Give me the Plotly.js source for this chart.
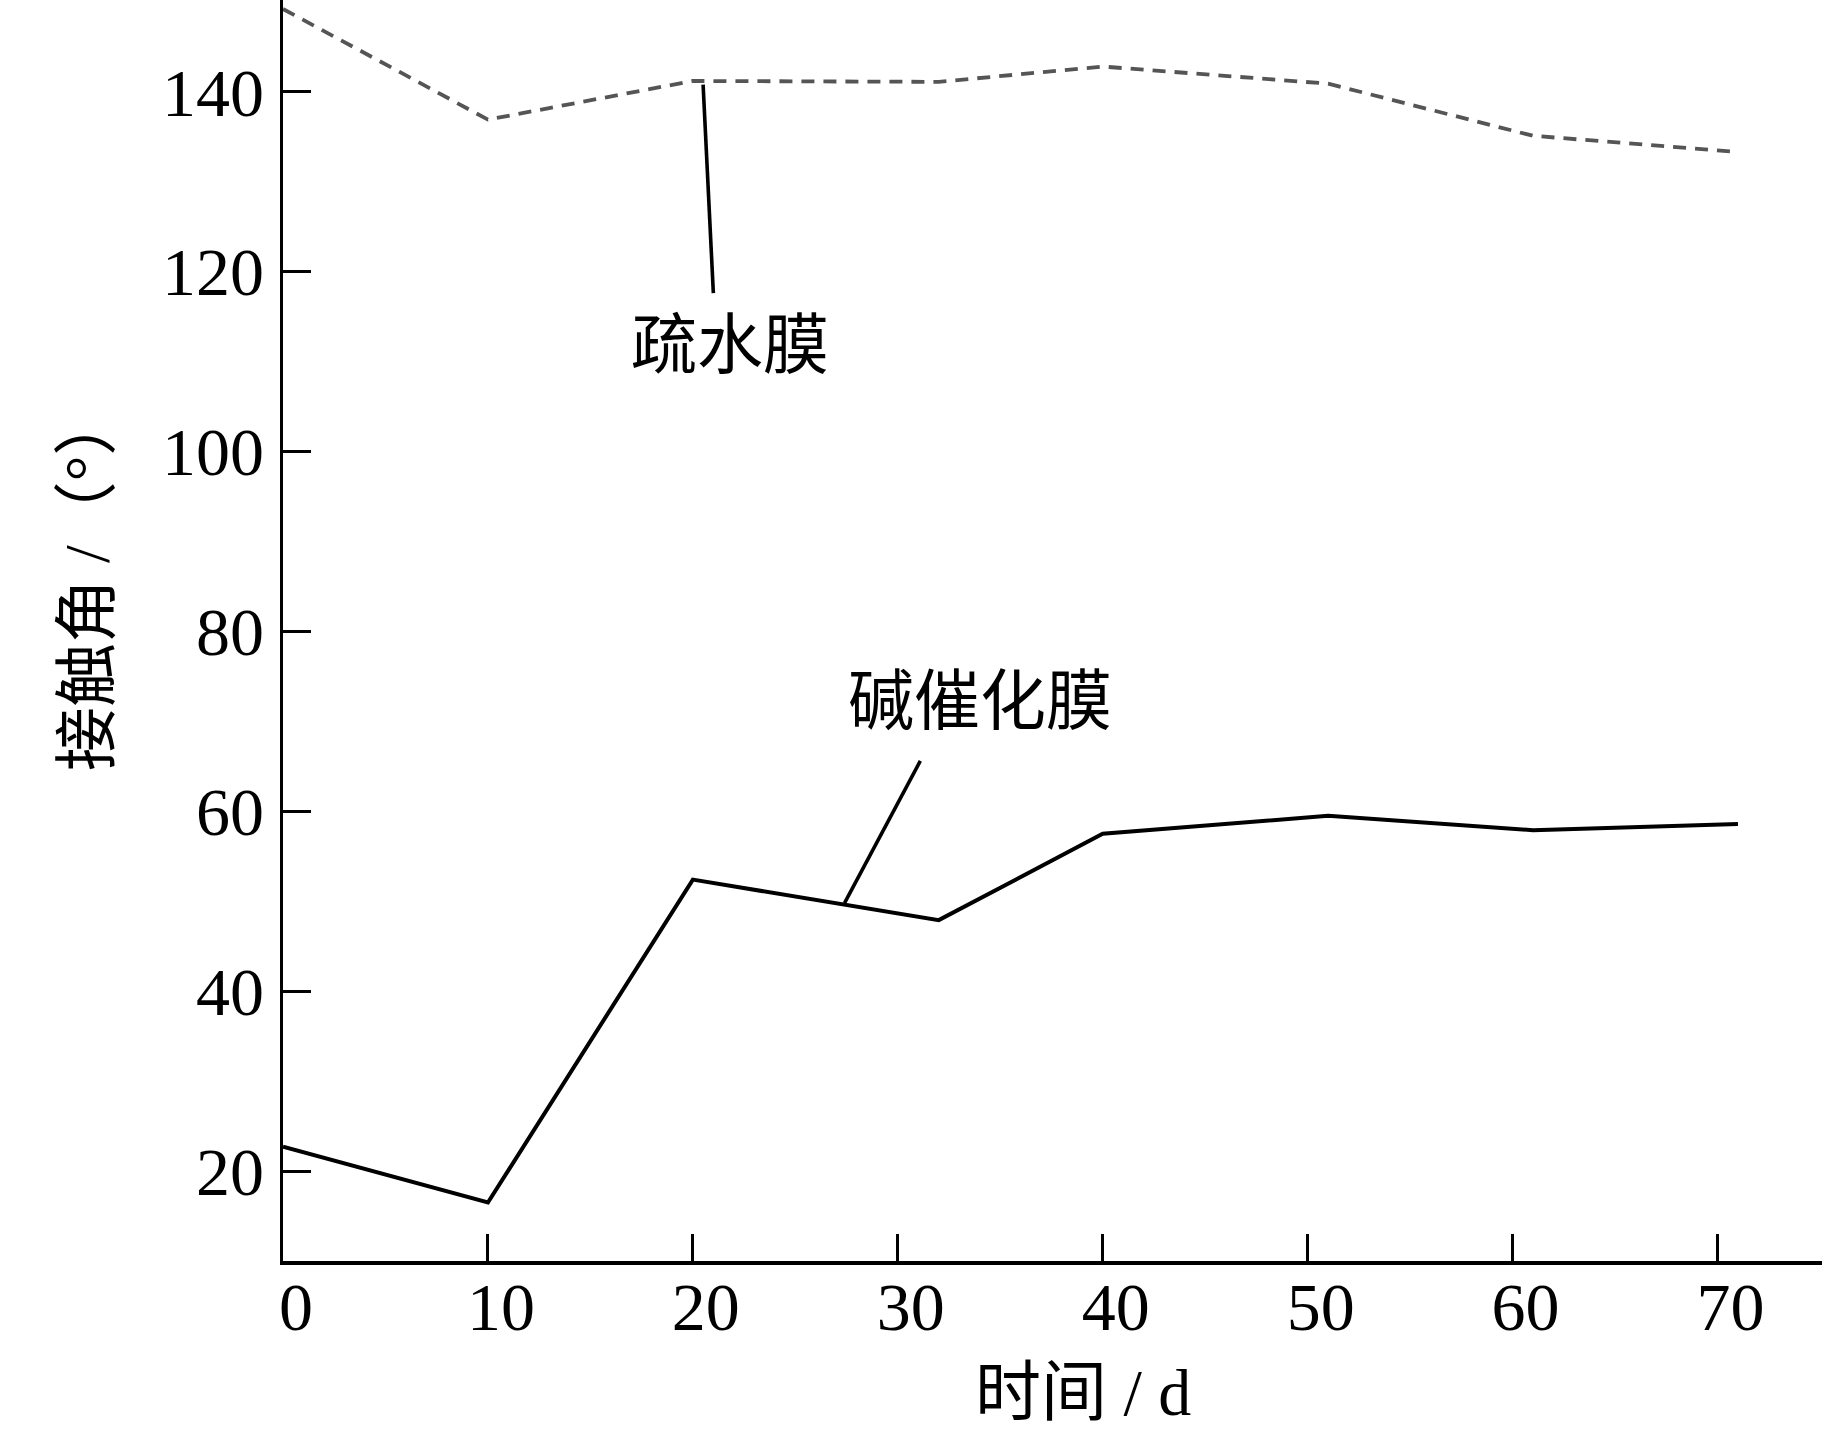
<!DOCTYPE html>
<html>
<head>
<meta charset="utf-8">
<script src="https://cdn.plot.ly/plotly-3.0.1.min.js"></script>
<style>html,body{margin:0;padding:0;background:#fff;}#chart{width:1822px;height:1435px;}</style>
</head>
<body>
<div id="chart"></div>
<script>
// Data
const days_hydrophobic = [0, 10, 20, 32, 40, 51, 61, 71];
const angle_hydrophobic = [149.2, 136.9, 141.2, 141.1, 142.8, 140.9, 135.1, 133.3];
const days_alkali = [0, 10, 20, 32, 40, 51, 61, 71];
const angle_alkali = [22.7, 16.5, 52.4, 47.9, 57.5, 59.5, 57.9, 58.6];
const xTicks = [0, 10, 20, 30, 40, 50, 60, 70];
const yTicks = [20, 40, 60, 80, 100, 120, 140];
const label_hydrophobic = '疏水膜';
const label_alkali = '碱催化膜';
const xTitle = '时间 / d';
const yTitle = '接触角 /（°）';

const FONT = '"Liberation Serif", "Times New Roman", "Noto Sans CJK SC", serif';

const traces = [
  {x: days_hydrophobic, y: angle_hydrophobic, mode: 'lines', type: 'scatter',
   line: {color: '#555555', width: 3.8, dash: '13px,9px'}, hoverinfo: 'none'},
  {x: days_alkali, y: angle_alkali, mode: 'lines', type: 'scatter',
   line: {color: '#000000', width: 4}, hoverinfo: 'none'}
];

const layout = {
  width: 1822, height: 1435,
  margin: {l: 283, r: 0, t: 0, b: 174},
  paper_bgcolor: '#fff', plot_bgcolor: '#fff',
  showlegend: false,
  font: {family: FONT, color: '#000', size: 66},
  xaxis: {
    range: [0, 75.1], tickvals: xTicks, ticktext: xTicks.map(String),
    showline: true, linecolor: '#000', linewidth: 3.5, mirror: false,
    ticks: 'inside', ticklen: 27, tickwidth: 3, tickcolor: '#000',
    showgrid: false, zeroline: false,
    tickfont: {family: FONT, size: 68, color: '#000'},
    ticklabelshift: 13, ticklabelstandoff: -16,
    automargin: false
  },
  yaxis: {
    range: [10, 150.2], tickvals: yTicks, ticktext: yTicks.map(String),
    showline: true, linecolor: '#000', linewidth: 3.5,
    ticks: 'inside', ticklen: 28, tickwidth: 3, tickcolor: '#000',
    showgrid: false, zeroline: false,
    tickfont: {family: FONT, size: 68, color: '#000'},
    ticklabelstandoff: 2,
    automargin: false
  },
  shapes: [
    {type: 'line', xref: 'x', yref: 'y', x0: 20.5, y0: 140.8, x1: 21.0, y1: 117.6,
     line: {color: '#000', width: 3.6}},
    {type: 'line', xref: 'x', yref: 'y', x0: 31.1, y0: 65.6, x1: 27.4, y1: 49.8,
     line: {color: '#000', width: 3.6}}
  ],
  annotations: [
    {x: 21.8, y: 111.8, xref: 'x', yref: 'y', text: label_hydrophobic, showarrow: false,
     xanchor: 'center', yanchor: 'middle',
     font: {family: FONT, size: 66, color: '#000'}},
    {x: 34.0, y: 72.2, xref: 'x', yref: 'y', text: label_alkali, showarrow: false,
     xanchor: 'center', yanchor: 'middle',
     font: {family: FONT, size: 66, color: '#000'}},
    {x: 1083, y: 1392, xref: 'paper', yref: 'paper', text: xTitle, showarrow: false,
     xanchor: 'center', yanchor: 'middle',
     font: {family: FONT, size: 66, color: '#000'}},
    {x: 87, y: 582, xref: 'paper', yref: 'paper', text: yTitle, showarrow: false, textangle: -90,
     xanchor: 'center', yanchor: 'middle',
     font: {family: FONT, size: 64, color: '#000'}}
  ]
};

// convert pixel positions of the two axis titles into paper fractions
(function () {
  const W = layout.width - layout.margin.l - layout.margin.r;
  const H = layout.height - layout.margin.t - layout.margin.b;
  const xa = layout.annotations[2], ya = layout.annotations[3];
  xa.x = (xa.x - layout.margin.l) / W; xa.y = 1 - (xa.y - layout.margin.t) / H;
  ya.x = (ya.x - layout.margin.l) / W; ya.y = 1 - (ya.y - layout.margin.t) / H;
})();

Plotly.newPlot('chart', traces, layout, {displayModeBar: false, staticPlot: true});
</script>
</body>
</html>
